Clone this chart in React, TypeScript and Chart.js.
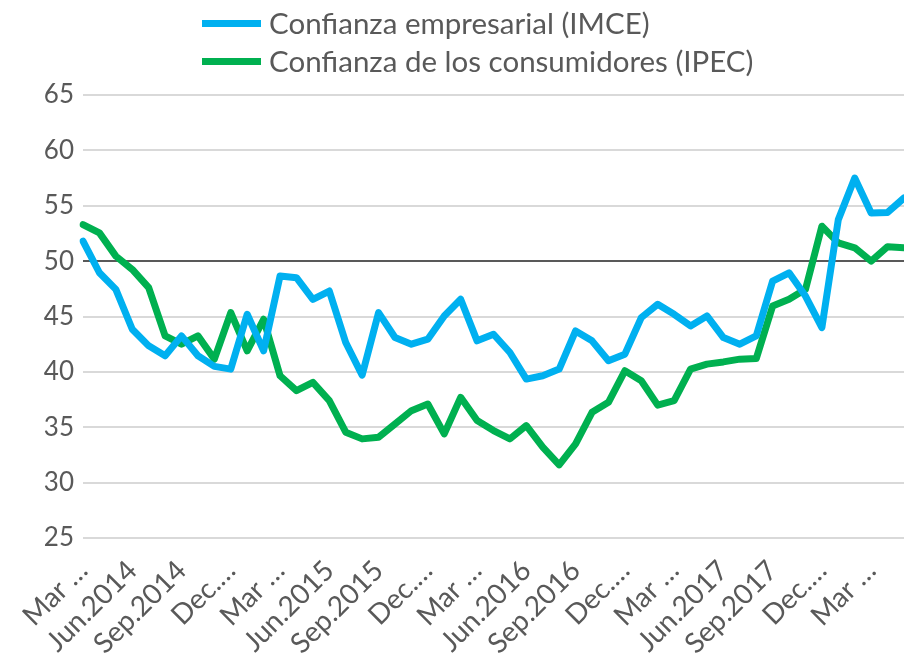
import React, { useEffect, useRef } from 'react';
import { Chart, registerables } from 'chart.js';

Chart.register(...registerables);

const months = [
  'Mar.2014', 'Apr.2014', 'May.2014', 'Jun.2014', 'Jul.2014', 'Aug.2014', 'Sep.2014', 'Oct.2014', 'Nov.2014', 'Dec.2014',
  'Jan.2015', 'Feb.2015', 'Mar.2015', 'Apr.2015', 'May.2015', 'Jun.2015', 'Jul.2015', 'Aug.2015', 'Sep.2015', 'Oct.2015', 'Nov.2015', 'Dec.2015',
  'Jan.2016', 'Feb.2016', 'Mar.2016', 'Apr.2016', 'May.2016', 'Jun.2016', 'Jul.2016', 'Aug.2016', 'Sep.2016', 'Oct.2016', 'Nov.2016', 'Dec.2016',
  'Jan.2017', 'Feb.2017', 'Mar.2017', 'Apr.2017', 'May.2017', 'Jun.2017', 'Jul.2017', 'Aug.2017', 'Sep.2017', 'Oct.2017', 'Nov.2017', 'Dec.2017',
  'Jan.2018', 'Feb.2018', 'Mar.2018', 'Apr.2018', 'May.2018',
];

const tickLabels = [
  'Mar …', 'Jun.2014', 'Sep.2014', 'Dec.…', 'Mar …', 'Jun.2015', 'Sep.2015', 'Dec.…', 'Mar …',
  'Jun.2016', 'Sep.2016', 'Dec.…', 'Mar …', 'Jun.2017', 'Sep.2017', 'Dec.…', 'Mar …',
];

const imce = [
  51.8, 48.95, 47.45, 43.85, 42.35, 41.45, 43.25, 41.45, 40.5, 40.25,
  45.2, 41.9, 48.65, 48.5, 46.55, 47.3, 42.65, 39.7, 45.35, 43.1,
  42.5, 42.95, 45.05, 46.55, 42.8, 43.4, 41.75, 39.35, 39.65, 40.25,
  43.7, 42.8, 41.0, 41.6, 44.9, 46.1, 45.2, 44.15, 45.05, 43.1,
  42.5, 43.25, 48.2, 48.95, 46.85, 44.0, 53.75, 57.5, 54.35, 54.4, 55.7,
];

const ipec = [
  53.3, 52.55, 50.45, 49.25, 47.6, 43.25, 42.5, 43.25, 41.15, 45.35,
  41.9, 44.75, 39.65, 38.3, 39.05, 37.4, 34.55, 33.95, 34.1, 35.3,
  36.5, 37.1, 34.4, 37.7, 35.6, 34.7, 33.95, 35.15, 33.2, 31.6,
  33.5, 36.35, 37.25, 40.1, 39.2, 37.0, 37.4, 40.25, 40.7, 40.9,
  41.15, 41.2, 45.95, 46.55, 47.45, 53.15, 51.65, 51.2, 50.0, 51.3, 51.2,
];

const seriesNames = ['Confianza empresarial (IMCE)', 'Confianza de los consumidores (IPEC)'];
const seriesColors = ['#00B0F0', '#00B050'];

const FONT = 'Lato, "Noto Sans", sans-serif';
const TEXT = '#595959';

export default function App() {
  const ref = useRef<HTMLCanvasElement | null>(null);

  useEffect(() => {
    document.body.style.margin = '0';
    const canvas = ref.current;
    if (!canvas) return;
    const chart = new Chart(canvas, {
      type: 'line',
      data: {
        labels: months,
        datasets: [
          {
            label: seriesNames[0],
            data: imce,
            borderColor: seriesColors[0],
            backgroundColor: seriesColors[0],
            borderWidth: 7,
            pointRadius: 0,
            tension: 0,
            borderJoinStyle: 'round',
            borderCapStyle: 'round',
          },
          {
            label: seriesNames[1],
            data: ipec,
            borderColor: seriesColors[1],
            backgroundColor: seriesColors[1],
            borderWidth: 7,
            pointRadius: 0,
            tension: 0,
            borderJoinStyle: 'round',
            borderCapStyle: 'round',
          },
        ],
      },
      options: {
        animation: false,
        responsive: false,
        maintainAspectRatio: false,
        layout: { padding: { top: 95, right: 0, left: 0, bottom: 0 } },
        plugins: {
          legend: { display: false },
          tooltip: { enabled: false },
        },
        scales: {
          x: {
            type: 'category',
            offset: false,
            grid: { display: false, drawTicks: false },
            border: { display: false },
            ticks: {
              autoSkip: false,
              minRotation: 45,
              maxRotation: 45,
              padding: 16,
              color: TEXT,
              font: { family: FONT, size: 28 },
              callback: (_v: any, idx: number) => (idx % 3 === 0 ? tickLabels[idx / 3] : ''),
            },
            afterFit: (s: any) => {
              s.height = 125;
              s.paddingLeft = 0;
              s.paddingRight = 0;
            },
          },
          y: {
            min: 25,
            max: 65,
            grid: {
              drawTicks: false,
              color: (ctx: any) => (ctx.tick && ctx.tick.value === 50 ? '#595959' : '#D9D9D9'),
              lineWidth: 2,
            },
            border: { display: false },
            ticks: {
              stepSize: 5,
              padding: 9,
              color: TEXT,
              font: { family: FONT, size: 26 },
            },
            afterFit: (s: any) => {
              s.width = 83;
              s.paddingTop = 0;
              s.paddingBottom = 0;
            },
          },
        },
      },
    });
    return () => chart.destroy();
  }, []);

  const legendRow = (i: number, top: number) => (
    <div
      key={i}
      style={{ position: 'absolute', left: 202, top, height: 40, display: 'flex', alignItems: 'center' }}
    >
      <div style={{ width: 59, height: 7, background: seriesColors[i], marginRight: 8 }} />
      <span style={{ fontFamily: FONT, fontSize: 29.5, color: TEXT, whiteSpace: 'nowrap', lineHeight: '40px' }}>
        {seriesNames[i]}
      </span>
    </div>
  );

  return (
    <div style={{ position: 'absolute', left: 0, top: 0, width: 904, height: 663, background: '#fff' }}>
      <canvas ref={ref} width={904} height={663} style={{ display: 'block' }} />
      {legendRow(0, 3)}
      {legendRow(1, 41)}
    </div>
  );
}
